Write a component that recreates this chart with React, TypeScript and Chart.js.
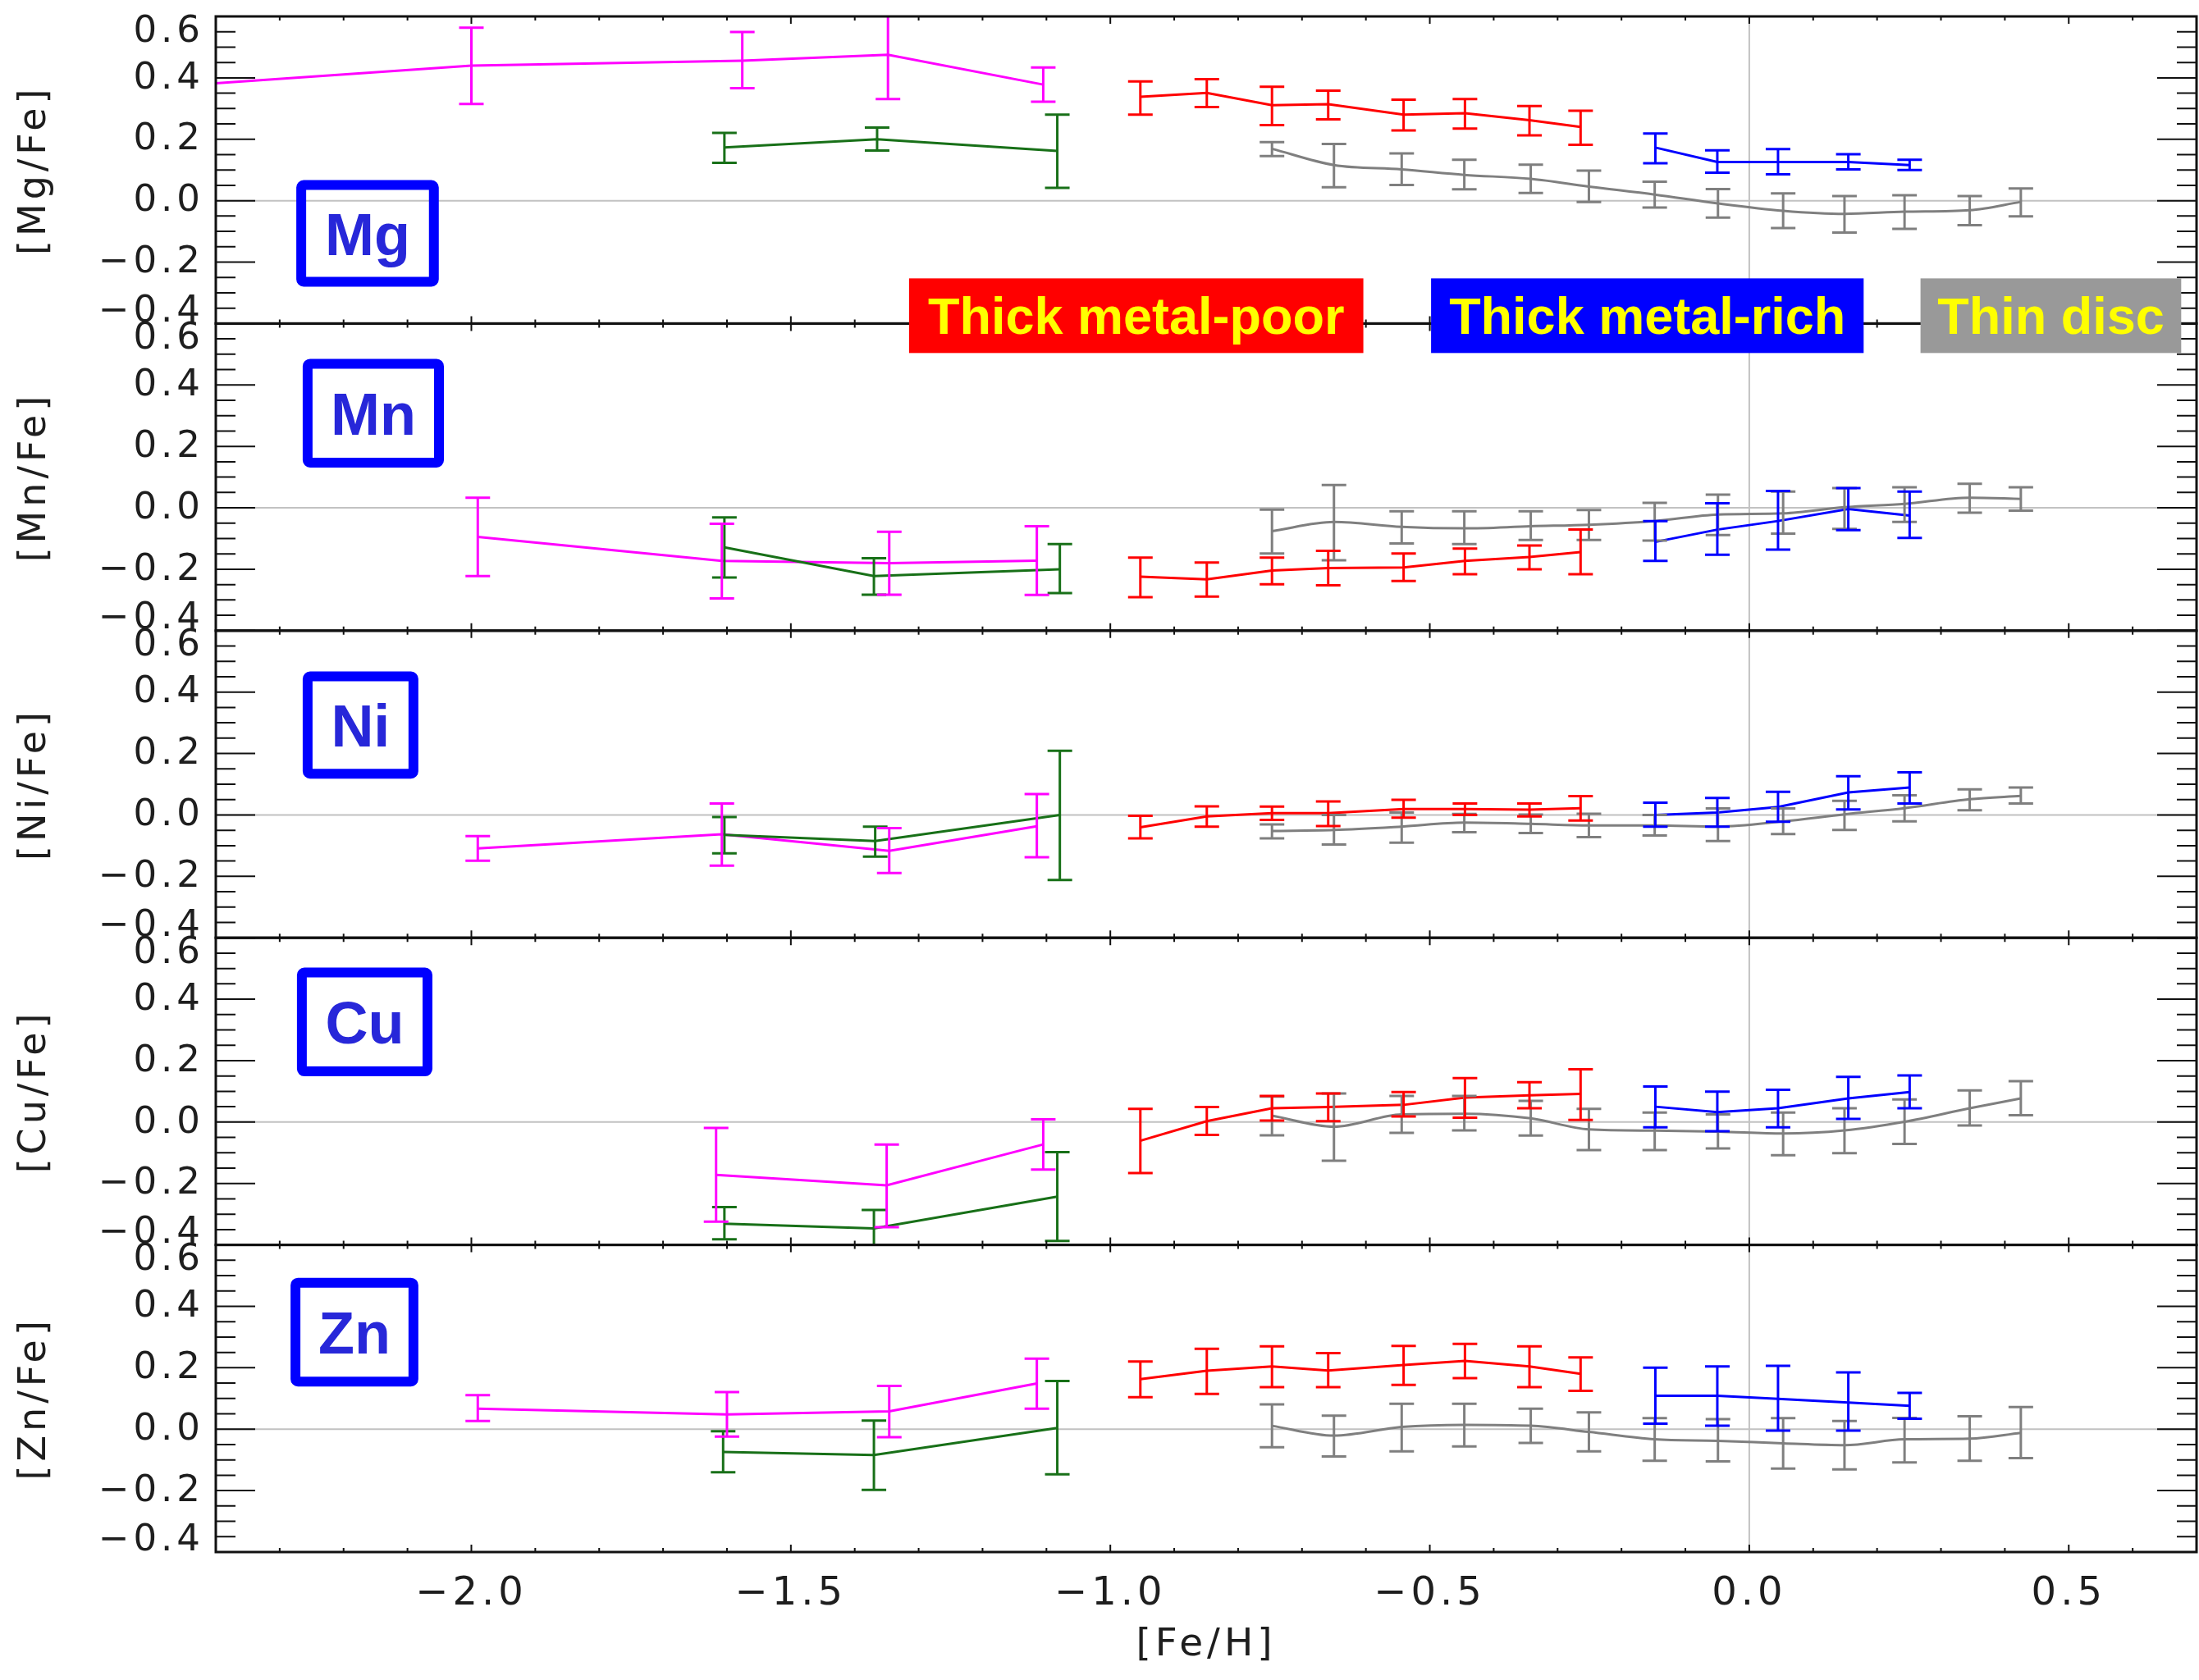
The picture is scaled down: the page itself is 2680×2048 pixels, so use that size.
import React, { useEffect, useRef } from 'react';
import Chart from 'chart.js/auto';

// ---------------- data ----------------
const ELEMENTS = ['Mg', 'Mn', 'Ni', 'Cu', 'Zn'];
const Y_TITLES = ['[Mg/Fe]', '[Mn/Fe]', '[Ni/Fe]', '[Cu/Fe]', '[Zn/Fe]'];
const X_TITLE = '[Fe/H]';
const X_TICK_VALUES = [-2.0, -1.5, -1.0, -0.5, 0.0, 0.5];
const X_TICK_LABELS = ['\u22122.0', '\u22121.5', '\u22121.0', '\u22120.5', '0.0', '0.5'];
const Y_TICK_VALUES = [-0.4, -0.2, 0.0, 0.2, 0.4, 0.6];
const Y_TICK_LABELS = ['\u22120.4', '\u22120.2', '0.0', '0.2', '0.4', '0.6'];
const GROUP_LABELS = ['Thick metal-poor', 'Thick metal-rich', 'Thin disc'];

// [Fe/H] bin centres
const RED_X = [-0.953, -0.849, -0.747, -0.659, -0.541, -0.445, -0.344, -0.264];
const BLUE_X = [-0.147, -0.05, 0.045, 0.155, 0.251];
const GRAY_X = [-0.747, -0.65, -0.544, -0.446, -0.342, -0.251, -0.148, -0.049, 0.053, 0.149, 0.243, 0.345, 0.425];
const MG_MAGENTA_X = [-2.5, -2.0, -1.576, -1.348, -1.105];
const MN_MAGENTA_X = [-1.99, -1.608, -1.346, -1.115];
const NI_MAGENTA_X = [-1.99, -1.608, -1.346, -1.115];
const CU_MAGENTA_X = [-1.617, -1.35, -1.105];
const ZN_MAGENTA_X = [-1.99, -1.6, -1.346, -1.115];
const MG_GREEN_X = [-1.604, -1.365, -1.083];
const MN_GREEN_X = [-1.604, -1.37, -1.079];
const NI_GREEN_X = [-1.604, -1.368, -1.079];
const CU_GREEN_X = [-1.604, -1.37, -1.083];
const ZN_GREEN_X = [-1.606, -1.37, -1.083];

// rows: [value, lower error end, upper error end]
const MG_MAGENTA = [[0.368, 0.27, 0.47], [0.44, 0.315, 0.563], [0.456, 0.366, 0.549], [0.475, 0.331, 0.619], [0.378, 0.322, 0.434]];
const MG_GREEN = [[0.173, 0.123, 0.221], [0.2, 0.163, 0.238], [0.162, 0.042, 0.28]];
const MG_RED = [[0.338, 0.28, 0.388], [0.351, 0.305, 0.396], [0.311, 0.246, 0.371], [0.314, 0.265, 0.358], [0.28, 0.229, 0.329], [0.285, 0.235, 0.331], [0.262, 0.213, 0.308], [0.24, 0.182, 0.293]];
const MG_BLUE = [[0.173, 0.122, 0.219], [0.126, 0.091, 0.164], [0.126, 0.086, 0.168], [0.126, 0.102, 0.151], [0.116, 0.1, 0.133]];
const MG_GRAY = [[0.169, 0.145, 0.191], [0.116, 0.044, 0.185], [0.102, 0.051, 0.154], [0.084, 0.037, 0.133], [0.071, 0.025, 0.117], [0.046, -0.004, 0.098], [0.02, -0.022, 0.062], [-0.009, -0.055, 0.038], [-0.033, -0.089, 0.024], [-0.043, -0.104, 0.015], [-0.036, -0.092, 0.018], [-0.031, -0.08, 0.015], [-0.004, -0.051, 0.04]];

const MN_MAGENTA = [[-0.095, -0.222, 0.033], [-0.173, -0.295, -0.052], [-0.18, -0.283, -0.078], [-0.172, -0.284, -0.06]];
const MN_GREEN = [[-0.129, -0.227, -0.031], [-0.222, -0.283, -0.164], [-0.2, -0.278, -0.118]];
const MN_RED = [[-0.224, -0.291, -0.162], [-0.233, -0.289, -0.178], [-0.204, -0.249, -0.162], [-0.196, -0.252, -0.14], [-0.194, -0.238, -0.149], [-0.173, -0.216, -0.133], [-0.16, -0.2, -0.123], [-0.144, -0.216, -0.071]];
const MN_BLUE = [[-0.111, -0.173, -0.043], [-0.071, -0.153, 0.015], [-0.043, -0.136, 0.055], [-0.004, -0.073, 0.064], [-0.025, -0.098, 0.053]];
const MN_GRAY = [[-0.076, -0.149, -0.006], [-0.046, -0.171, 0.074], [-0.062, -0.116, -0.011], [-0.067, -0.118, -0.011], [-0.06, -0.105, -0.011], [-0.055, -0.105, -0.007], [-0.043, -0.107, 0.016], [-0.022, -0.089, 0.043], [-0.018, -0.084, 0.053], [0.002, -0.069, 0.064], [0.013, -0.046, 0.067], [0.033, -0.016, 0.078], [0.029, -0.009, 0.067]];

const NI_MAGENTA = [[-0.109, -0.149, -0.069], [-0.063, -0.165, 0.037], [-0.117, -0.189, -0.043], [-0.037, -0.138, 0.068]];
const NI_GREEN = [[-0.065, -0.125, -0.007], [-0.085, -0.136, -0.038], [0.0, -0.212, 0.209]];
const NI_RED = [[-0.04, -0.076, -0.003], [-0.005, -0.038, 0.028], [0.006, -0.016, 0.027], [0.006, -0.036, 0.044], [0.019, -0.009, 0.049], [0.019, 0.0, 0.037], [0.017, -0.005, 0.037], [0.022, -0.018, 0.061]];
const NI_BLUE = [[0.0, -0.038, 0.04], [0.008, -0.038, 0.055], [0.026, -0.022, 0.075], [0.073, 0.018, 0.126], [0.089, 0.037, 0.139]];
const NI_GRAY = [[-0.052, -0.076, -0.031], [-0.049, -0.096, 0.0], [-0.038, -0.09, 0.008], [-0.025, -0.056, 0.003], [-0.029, -0.059, 0.001], [-0.034, -0.072, 0.004], [-0.034, -0.067, 0.0], [-0.038, -0.085, 0.021], [-0.021, -0.062, 0.021], [0.002, -0.049, 0.046], [0.022, -0.021, 0.064], [0.051, 0.015, 0.083], [0.062, 0.037, 0.089]];

const CU_MAGENTA = [[-0.172, -0.324, -0.019], [-0.206, -0.342, -0.073], [-0.073, -0.155, 0.009]];
const CU_GREEN = [[-0.331, -0.382, -0.277], [-0.346, -0.406, -0.286], [-0.243, -0.387, -0.098]];
const CU_RED = [[-0.061, -0.166, 0.043], [0.003, -0.042, 0.049], [0.045, 0.005, 0.085], [0.049, 0.003, 0.093], [0.056, 0.018, 0.098], [0.08, 0.014, 0.143], [0.087, 0.045, 0.13], [0.092, 0.007, 0.172]];
const CU_BLUE = [[0.05, -0.017, 0.116], [0.032, -0.03, 0.099], [0.045, -0.017, 0.105], [0.077, 0.01, 0.147], [0.098, 0.045, 0.152]];
const CU_GRAY = [[0.021, -0.043, 0.083], [-0.015, -0.126, 0.093], [0.025, -0.035, 0.085], [0.027, -0.027, 0.085], [0.012, -0.044, 0.069], [-0.024, -0.091, 0.043], [-0.028, -0.091, 0.031], [-0.031, -0.086, 0.025], [-0.037, -0.108, 0.031], [-0.027, -0.101, 0.045], [0.001, -0.071, 0.074], [0.045, -0.011, 0.103], [0.077, 0.022, 0.133]];

const ZN_MAGENTA = [[0.067, 0.027, 0.111], [0.048, -0.024, 0.121], [0.058, -0.026, 0.141], [0.149, 0.067, 0.23]];
const ZN_GREEN = [[-0.074, -0.14, -0.007], [-0.084, -0.198, 0.028], [0.004, -0.147, 0.157]];
const ZN_RED = [[0.163, 0.104, 0.22], [0.19, 0.115, 0.262], [0.204, 0.137, 0.27], [0.191, 0.137, 0.248], [0.209, 0.144, 0.271], [0.222, 0.166, 0.278], [0.204, 0.137, 0.27], [0.18, 0.125, 0.234]];
const ZN_BLUE = [[0.109, 0.018, 0.2], [0.109, 0.011, 0.204], [0.099, -0.005, 0.206], [0.087, -0.005, 0.185], [0.076, 0.034, 0.118]];
const ZN_GRAY = [[0.011, -0.059, 0.081], [-0.021, -0.089, 0.044], [0.007, -0.072, 0.083], [0.014, -0.056, 0.083], [0.011, -0.045, 0.067], [-0.009, -0.072, 0.055], [-0.033, -0.103, 0.036], [-0.038, -0.105, 0.033], [-0.046, -0.128, 0.036], [-0.052, -0.131, 0.027], [-0.033, -0.108, 0.037], [-0.031, -0.103, 0.042], [-0.012, -0.094, 0.072]];

// ---------------- styling / layout constants ----------------
const MAGENTA = '#ff00ff';
const GREEN = '#187018';
const RED = '#ff0000';
const BLUE = '#0000ff';
const GRAY = '#7f7f7f';
const GROUP_COLORS = ['#ff0000', '#0000ff', '#999999'];
const TEXT_COLOR = '#1e1e1e';
const FONT = '"DejaVu Sans", "Liberation Sans", sans-serif';
const BOLD_FONT = '"Liberation Sans", Arial, sans-serif';

// annotation placements (data coordinates of each panel)
const ELEMENT_BOX_X = [[-2.274, -2.051], [-2.264, -2.043], [-2.264, -2.083], [-2.273, -2.061], [-2.283, -2.083]];
const ELEMENT_BOX_Y = [[0.067, -0.28], [0.485, 0.131], [0.467, 0.118], [0.503, 0.149], [0.493, 0.139]];
const GROUP_BOX_X = [[-1.315, -0.604], [-0.498, 0.179], [0.268, 0.676]];
const GROUP_BOX_Y = [-0.253, -0.496];

const PANELS = [
  { mag: [MG_MAGENTA_X, MG_MAGENTA], grn: [MG_GREEN_X, MG_GREEN], red: MG_RED, blue: MG_BLUE, gray: MG_GRAY },
  { mag: [MN_MAGENTA_X, MN_MAGENTA], grn: [MN_GREEN_X, MN_GREEN], red: MN_RED, blue: MN_BLUE, gray: MN_GRAY },
  { mag: [NI_MAGENTA_X, NI_MAGENTA], grn: [NI_GREEN_X, NI_GREEN], red: NI_RED, blue: NI_BLUE, gray: NI_GRAY },
  { mag: [CU_MAGENTA_X, CU_MAGENTA], grn: [CU_GREEN_X, CU_GREEN], red: CU_RED, blue: CU_BLUE, gray: CU_GRAY },
  { mag: [ZN_MAGENTA_X, ZN_MAGENTA], grn: [ZN_GREEN_X, ZN_GREEN], red: ZN_RED, blue: ZN_BLUE, gray: ZN_GRAY },
];

function series(label: string, xs: number[], rows: number[][], color: string, yId: string, smooth = false) {
  return {
    type: 'line',
    label,
    data: rows.map((r, i) => ({ x: xs[i], y: r[0], lo: r[1], hi: r[2] })),
    borderColor: color,
    backgroundColor: color,
    borderWidth: 3,
    pointRadius: 0,
    pointHoverRadius: 0,
    fill: false,
    tension: 0,
    cubicInterpolationMode: smooth ? 'monotone' : 'default',
    yAxisID: yId,
    xAxisID: 'x',
    clip: 0,
  };
}

function line(ctx: CanvasRenderingContext2D, x1: number, y1: number, x2: number, y2: number) {
  ctx.moveTo(x1, y1);
  ctx.lineTo(x2, y2);
}

const panelPlugin = {
  id: 'panelDecor',
  beforeDraw(chart: any) {
    chart.ctx.letterSpacing = '5px';
  },
  beforeDatasetsDraw(chart: any) {
    const { ctx, chartArea } = chart;
    const xs = chart.scales.x;
    ctx.save();
    ctx.strokeStyle = '#c2c2c2';
    ctx.lineWidth = 2;
    ctx.beginPath();
    ELEMENTS.forEach((el) => {
      const ys = chart.scales['y' + el];
      const y0 = ys.getPixelForValue(0);
      line(ctx, chartArea.left, y0, chartArea.right, y0);
    });
    const x0 = xs.getPixelForValue(0);
    line(ctx, x0, chartArea.top, x0, chartArea.bottom);
    ctx.stroke();
    ctx.restore();
  },
  afterDatasetsDraw(chart: any) {
    const { ctx, chartArea } = chart;
    const xs = chart.scales.x;
    chart.data.datasets.forEach((ds: any) => {
      const ys = chart.scales[ds.yAxisID];
      ctx.save();
      ctx.beginPath();
      ctx.rect(chartArea.left, ys.top, chartArea.right - chartArea.left, ys.bottom - ys.top);
      ctx.clip();
      ctx.strokeStyle = ds.borderColor;
      ctx.lineWidth = 3;
      ctx.beginPath();
      ds.data.forEach((p: any) => {
        const px = xs.getPixelForValue(p.x);
        const yl = ys.getPixelForValue(p.lo);
        const yh = ys.getPixelForValue(p.hi);
        line(ctx, px, yl, px, yh);
        line(ctx, px - 15, yl, px + 15, yl);
        line(ctx, px - 15, yh, px + 15, yh);
      });
      ctx.stroke();
      ctx.restore();
    });
  },
  afterDraw(chart: any) {
    const { ctx, chartArea } = chart;
    const xs = chart.scales.x;
    const L = chartArea.left;
    const R = chartArea.right;
    ctx.save();
    // frames and ticks
    ELEMENTS.forEach((el) => {
      const ys = chart.scales['y' + el];
      const T = ys.top;
      const B = ys.bottom;
      ctx.strokeStyle = '#111';
      ctx.lineWidth = 2;
      ctx.beginPath();
      for (let i = -8; i <= 12; i++) {
        const v = i * 0.05;
        const py = ys.getPixelForValue(v);
        const len = i % 4 === 0 ? 48 : 24;
        line(ctx, L, py, L + len, py);
        line(ctx, R, py, R - len, py);
      }
      for (let i = -24; i <= 7; i++) {
        const v = i / 10;
        const px = xs.getPixelForValue(v);
        const len = i % 5 === 0 ? 9 : 5;
        line(ctx, px, T, px, T + len);
        line(ctx, px, B, px, B - len);
      }
      ctx.stroke();
      ctx.lineWidth = 3;
      ctx.strokeRect(L, T, R - L, B - T);
      // y tick labels
      ctx.fillStyle = TEXT_COLOR;
      ctx.font = '45px ' + FONT;
      ctx.textAlign = 'right';
      ctx.textBaseline = 'middle';
      ctx.letterSpacing = '5px';
      Y_TICK_VALUES.forEach((v, k) => {
        let py = ys.getPixelForValue(v);
        if (k === 0) py -= 15;
        if (k === Y_TICK_VALUES.length - 1) py += 18;
        ctx.fillText(Y_TICK_LABELS[k], L - 14, py + 1);
      });
    });
    // element boxes
    ctx.letterSpacing = '0px';
    ELEMENTS.forEach((el, i) => {
      const ys = chart.scales['y' + el];
      const l = xs.getPixelForValue(ELEMENT_BOX_X[i][0]);
      const r = xs.getPixelForValue(ELEMENT_BOX_X[i][1]);
      const t = ys.getPixelForValue(ELEMENT_BOX_Y[i][0]);
      const b = ys.getPixelForValue(ELEMENT_BOX_Y[i][1]);
      const bw = 12;
      ctx.strokeStyle = '#0000ff';
      ctx.lineWidth = bw;
      ctx.lineJoin = 'round';
      ctx.beginPath();
      ctx.roundRect(l + bw / 2, t + bw / 2, r - l - bw, b - t - bw, 3);
      ctx.stroke();
      ctx.fillStyle = '#2727d9';
      ctx.font = 'bold 72px ' + BOLD_FONT;
      ctx.textAlign = 'center';
      ctx.textBaseline = 'alphabetic';
      ctx.fillText(el, (l + r) / 2, (t + b) / 2 + 26);
    });
    // group labels
    const ymg = chart.scales.yMg;
    GROUP_LABELS.forEach((txt, i) => {
      const l = xs.getPixelForValue(GROUP_BOX_X[i][0]);
      const r = xs.getPixelForValue(GROUP_BOX_X[i][1]);
      const t = ymg.getPixelForValue(GROUP_BOX_Y[0]);
      const b = ymg.getPixelForValue(GROUP_BOX_Y[1]);
      ctx.fillStyle = GROUP_COLORS[i];
      ctx.fillRect(l, t, r - l, b - t);
      ctx.fillStyle = '#ffff00';
      ctx.font = 'bold 63px ' + BOLD_FONT;
      ctx.textAlign = 'center';
      ctx.textBaseline = 'alphabetic';
      ctx.fillText(txt, (l + r) / 2, (t + b) / 2 + 22.5);
    });
    ctx.restore();
    ctx.letterSpacing = '0px';
  },
};

export default function App() {
  const ref = useRef<HTMLCanvasElement | null>(null);
  useEffect(() => {
    document.body.style.margin = '0';
    const canvas = ref.current;
    if (!canvas) return;
    Chart.defaults.font.family = FONT;

    const datasets: any[] = [];
    PANELS.forEach((p, i) => {
      const yId = 'y' + ELEMENTS[i];
      datasets.push(series(ELEMENTS[i] + ' thin disc', GRAY_X, p.gray, GRAY, yId, true));
      datasets.push(series(ELEMENTS[i] + ' halo low-alpha', p.grn[0] as number[], p.grn[1] as number[][], GREEN, yId));
      datasets.push(series(ELEMENTS[i] + ' halo high-alpha', p.mag[0] as number[], p.mag[1] as number[][], MAGENTA, yId));
      datasets.push(series(ELEMENTS[i] + ' thick metal-rich', BLUE_X, p.blue, BLUE, yId));
      datasets.push(series(ELEMENTS[i] + ' thick metal-poor', RED_X, p.red, RED, yId));
    });

    const scales: any = {
      x: {
        type: 'linear',
        position: 'bottom',
        min: -2.4,
        max: 0.7,
        grid: { display: false, drawTicks: false },
        border: { display: false },
        afterBuildTicks: (s: any) => {
          s.ticks = X_TICK_VALUES.map((v) => ({ value: v }));
        },
        afterFit: (s: any) => {
          s.height = 156;
        },
        ticks: {
          autoSkip: false,
          maxRotation: 0,
          padding: 23,
          color: TEXT_COLOR,
          font: { family: FONT, size: 48 },
          callback: (_v: any, idx: number) => X_TICK_LABELS[idx],
        },
        title: {
          display: true,
          text: X_TITLE,
          color: TEXT_COLOR,
          font: { family: FONT, size: 47 },
          padding: { top: 0, bottom: 14 },
        },
      },
    };
    ELEMENTS.forEach((el, i) => {
      scales['y' + el] = {
        type: 'linear',
        position: 'left',
        stack: 'panels',
        stackWeight: 1,
        weight: ELEMENTS.length - i,
        min: -0.4,
        max: 0.6,
        grid: { display: false, drawTicks: false },
        border: { display: false },
        ticks: { display: false },
        title: {
          display: true,
          text: Y_TITLES[i],
          color: TEXT_COLOR,
          font: { family: FONT, size: 46 },
          padding: { top: 15, bottom: 0 },
        },
        afterFit: (s: any) => {
          s.width = 263;
        },
      };
    });

    const chart = new Chart(canvas, {
      type: 'line',
      data: { datasets },
      options: {
        responsive: false,
        maintainAspectRatio: false,
        devicePixelRatio: 1,
        animation: false,
        events: [],
        layout: { padding: { top: 20, right: 3, bottom: 0, left: 0 } },
        plugins: { legend: { display: false }, tooltip: { enabled: false }, title: { display: false } },
        scales,
      },
      plugins: [panelPlugin],
    } as any);
    return () => chart.destroy();
  }, []);
  return (
    <canvas
      ref={ref}
      width={2680}
      height={2048}
      style={{ display: 'block', width: '2680px', height: '2048px', background: '#ffffff' }}
    />
  );
}
